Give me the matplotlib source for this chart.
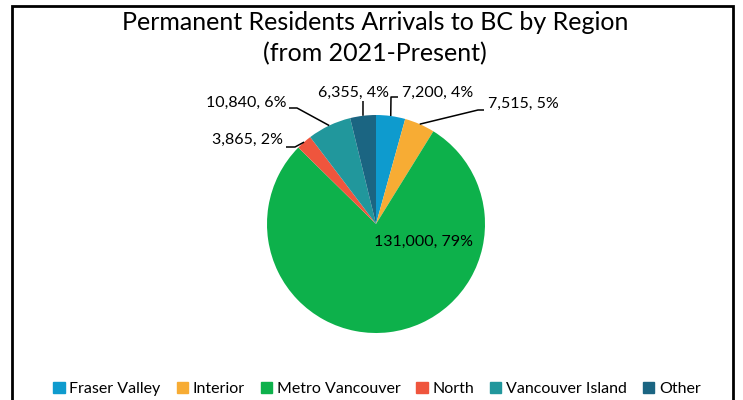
"""
Permanent residents arrivals to BC by region, pie chart.
"""

import matplotlib.pyplot as plt
from matplotlib.patches import Rectangle
import numpy as np

# Data
regions = ['Fraser Valley', 'Interior', 'Metro Vancouver', 'North',
           'Vancouver Island', 'Other']
arrivals = [7200, 7515, 131000, 3865, 10840, 6355]
colors = ['#0E9BCE', '#F7AC34', '#0DB14B', '#EF553D', '#21979C', '#1B6582']

plt.rcParams['font.family'] = ['Lato', 'DejaVu Sans']

W, H = 743, 400
fig = plt.figure(figsize=(W / 100, H / 100), dpi=100)
ax = fig.add_axes([0, 0, 1, 1])

# pie in pixel coordinates (y measured up from bottom)
cx, cy, r = 376, H - 224, 109
wedges, _ = ax.pie(arrivals, colors=colors, startangle=90, counterclock=False,
                   center=(cx, cy), radius=r, wedgeprops=dict(linewidth=0))
ax.set_xlim(0, W)
ax.set_ylim(0, H)
ax.set_aspect('equal')
ax.axis('off')

total = sum(arrivals)
labels = [f'{v:,}, {v / total:.0%}' for v in arrivals]

# label layout: (elbow point, end of horizontal, text position, ha), pixel coords from top
layout = {
    0: ((391, 97), (398, 97), (402, 93), 'left'),
    1: ((478, 110), (484, 110), (488, 104), 'left'),
    3: ((295, 147), (286, 147), (283, 140), 'right'),
    4: ((297, 108), (289, 108), (286, 103), 'right'),
    5: ((363, 101), (363, 101), (354, 93), 'center'),
}

for i, w in enumerate(wedges):
    ang = np.deg2rad((w.theta1 + w.theta2) / 2)
    if i not in layout:
        ax.text(424, H - 242, labels[i], ha='center', va='center', fontsize=11.5)
        continue
    sx, sy = cx + r * np.cos(ang), cy + r * np.sin(ang)
    (ex, ey), (hx, hy), (tx, ty), ha = layout[i]
    ax.plot([sx, ex, hx], [sy, H - ey, H - hy], color='black', lw=1.1,
            solid_capstyle='butt')
    ax.text(tx, H - ty, labels[i], ha=ha, va='center', fontsize=11.5)

fig.text(375 / W, 1 - 23 / H, 'Permanent Residents Arrivals to BC by Region',
         ha='center', va='center', fontsize=18)
fig.text(375 / W, 1 - 54 / H, '(from 2021-Present)',
         ha='center', va='center', fontsize=18)

# legend
handles = [plt.Rectangle((0, 0), 1, 1, color=c) for c in colors]
fig.legend(handles, regions, loc='center', bbox_to_anchor=(377 / W, 1 - 389 / H),
           ncol=6, frameon=False, fontsize=11.5, handlelength=0.7, handleheight=0.7,
           handletextpad=0.3, columnspacing=1.0)

# outer frame
fig.patches.append(Rectangle((12 / W, -0.05), 721 / W, 1.05 - 6 / H,
                             transform=fig.transFigure, fill=False,
                             edgecolor='black', linewidth=2))

fig.savefig('out.png', dpi=100)
plt.close()
